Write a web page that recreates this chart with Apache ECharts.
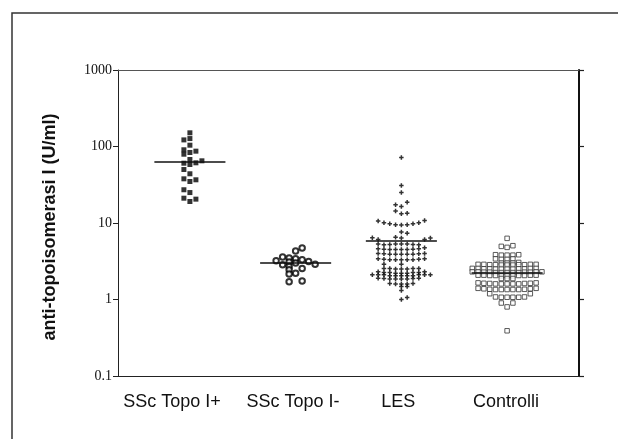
<!DOCTYPE html>
<html>
<head>
<meta charset="utf-8">
<script src="https://cdn.jsdelivr.net/npm/echarts@6/dist/echarts.min.js"></script>
<style>
html,body{margin:0;padding:0;background:#fff;}
#chart{width:618px;height:439px;}
</style>
</head>
<body>
<div id="chart"></div>
<script>
// ---- data ----
var categories = ['SSc Topo I+', 'SSc Topo I-', 'LES', 'Controlli'];
var yTickLabels = ['0.1', '1', '10', '100', '1000'];
var medians = [64, 3.0, 5.8, 2.23];

var sscPosValues = [151,122,127,104,90.6,79.3,83.5,86.9,67.6,65,60.5,61.2,58.2,50,44,37.8,36.7,34.9,27.2,25,21.1,20.5,19.1];
var sscPosSlots  = [0,-1,0,0,-1,-1,0,1,0,2,-1,1,0,-1,0,-1,1,0,-1,0,-1,1,0];

var sscNegValues = [4.7,4.3,3.6,3.5,3.4,3.3,3.2,3.1,3.15,3.0,2.9,2.85,2.7,2.55,2.45,2.2,2.15,1.75,1.7];
var sscNegSlots  = [1,0,-2,-1,0,1,-3,-1,2,0,3,-2,-1,1,-1,0,-1,1,-1];

var lesValues = [72,31,25,18.7,17.3,16.4,14.3,13.2,13.4,
  10.6,10.1,9.8,9.5,9.45,9.5,9.8,10.1,10.8,
  7.6,7.35,6.5,6.35,6.4,6.1,6.1,6.35,
  5.3,5.2,5.25,5.3,5.3,5.3,5.25,5.2,
  4.6,4.55,4.5,4.5,4.5,4.5,4.55,4.6,4.75,
  4.0,3.95,3.9,3.9,3.9,3.9,3.9,3.95,4.0,
  3.4,3.35,3.3,3.3,3.3,3.3,3.3,3.35,3.4,
  2.9,2.9,
  2.55,2.55,2.5,2.5,2.5,2.55,2.55,
  2.3,2.25,2.25,2.2,2.2,2.2,2.25,2.25,2.3,
  2.1,2.1,2.1,2.05,2.05,2.05,2.05,2.05,2.1,2.1,2.1,
  1.9,1.88,1.85,1.85,1.85,1.85,1.88,1.9,
  1.62,1.6,1.6,1.6,1.62,
  1.48,1.48,1.31,1.06,1.0];
var lesSlots = [0,0,0,1,-1,0,-1,0,1,
  -4,-3,-2,-1,0,1,2,3,4,
  0,1,-1,0,-5,-4,4,5,
  -4,-3,-2,-1,0,1,2,3,
  -4,-3,-2,-1,0,1,2,3,4,
  -4,-3,-2,-1,0,1,2,3,4,
  -4,-3,-2,-1,0,1,2,3,4,
  -3,0,
  -3,-2,-1,0,1,2,3,
  -4,-3,-2,-1,0,1,2,3,4,
  -5,-4,-3,-2,-1,0,1,2,3,4,5,
  -4,-3,-2,-1,0,1,2,3,
  -2,-1,0,1,2,
  0,1,0,1,0];

var ctrlValues = [6.3,
  4.95,4.8,5.05,
  3.85,3.8,3.8,3.8,3.85,
  3.4,3.35,3.35,3.4,
  3.0,3.0,3.0,3.05,
  2.88,2.88,2.85,2.85,2.82,2.82,2.82,2.85,2.85,2.88,2.88,
  2.55,2.55,2.52,2.52,2.5,2.5,2.5,2.5,2.52,2.52,2.55,2.55,
  2.3,2.3,2.28,2.28,2.25,2.25,2.25,2.25,2.25,2.28,2.28,2.3,2.3,
  2.08,2.08,2.06,2.06,2.04,2.04,2.04,2.06,2.06,2.08,2.08,
  1.88,1.88,1.88,
  1.65,1.63,1.62,1.6,1.6,1.6,1.6,1.6,1.62,1.63,1.65,
  1.4,1.38,1.36,1.35,1.35,1.35,1.35,1.35,1.36,1.38,1.4,
  1.19,1.19,
  1.08,1.07,1.07,1.07,1.07,1.08,
  0.9,0.9,0.8,0.39];
var ctrlSlots = [0,
  -1,0,1,
  -2,-1,0,1,2,
  -2,-1,0,1,
  -1,0,1,2,
  -5,-4,-3,-2,-1,0,1,2,3,4,5,
  -6,-5,-4,-3,-2,-1,0,1,2,3,4,5,
  -6,-5,-4,-3,-2,-1,0,1,2,3,4,5,6,
  -5,-4,-3,-2,-1,0,1,2,3,4,5,
  -1,0,1,
  -5,-4,-3,-2,-1,0,1,2,3,4,5,
  -5,-4,-3,-2,-1,0,1,2,3,4,5,
  -3,4,
  -2,-1,0,1,2,3,
  -1,1,0,0];

// ---- build ----
var PX = 1 / 105.67;            // x-units per pixel
var slotPx = [6, 6.5, 5.8, 5.8]; // beeswarm column spacing per group
function pts(idx, vals, slots) {
  return vals.map(function (v, i) { return [idx + slots[i] * slotPx[idx] * PX, v]; });
}
var halfW = 0.336;
function medLine(idx) {
  return {
    silent: true, symbol: 'none', label: {show: false},
    lineStyle: {color: '#111', width: 1.5, type: 'solid'},
    data: [[{coord: [idx - halfW, medians[idx]]}, {coord: [idx + halfW, medians[idx]]}]]
  };
}

var chart = echarts.init(document.getElementById('chart'), null, {renderer: 'canvas'});
var option = {
  animation: false,
  backgroundColor: '#fff',
  grid: {left: 118, right: 39, top: 70, bottom: 63, containLabel: false},
  xAxis: [{
    type: 'value', min: -0.68, max: 3.68, position: 'bottom',
    axisLine: {show: true, onZero: false, lineStyle: {color: '#222', width: 1}},
    axisTick: {show: false},
    splitLine: {show: false},
    axisLabel: {
      customValues: [-0.17, 0.975, 1.97, 2.99],
      formatter: function (v, i) {
        var k = Math.round(v); if (k < 0) k = 0; if (k > 3) k = 3;
        return categories[k];
      },
      fontFamily: 'Liberation Sans', fontSize: 18, color: '#111', margin: 17
    }
  }, {
    type: 'value', min: -0.68, max: 3.68, position: 'top',
    axisLine: {show: true, onZero: false, lineStyle: {color: '#555', width: 1}},
    axisTick: {show: false}, axisLabel: {show: false}, splitLine: {show: false}
  }],
  yAxis: [{
    type: 'log', logBase: 10, min: 0.1, max: 1000, position: 'left',
    axisLine: {show: true, onZero: false, lineStyle: {color: '#222', width: 1}},
    axisTick: {show: true, inside: false, length: 5, lineStyle: {color: '#222'}},
    splitLine: {show: false},
    axisLabel: {
      formatter: function (v) {
        var e = Math.round(Math.log10(v)) + 1;
        return yTickLabels[e] !== undefined ? yTickLabels[e] : String(v);
      },
      fontFamily: 'Liberation Serif', fontSize: 14, color: '#111', margin: 6
    }
  }, {
    type: 'log', logBase: 10, min: 0.1, max: 1000, position: 'right',
    axisLine: {show: true, onZero: false, lineStyle: {color: '#111', width: 2}},
    axisTick: {show: true, inside: false, length: 5, lineStyle: {color: '#222', width: 1.2}},
    axisLabel: {show: false}, splitLine: {show: false}
  }],
  graphic: [
    {type: 'polyline', shape: {points: [[12, 439], [12, 13], [618, 13]]},
      style: {stroke: '#333', lineWidth: 1.5, fill: null}, silent: true},
    {type: 'text', x: 50, y: 227, rotation: Math.PI / 2,
      style: {text: 'anti-topoisomerasi I (U/ml)', font: 'bold 18px "Liberation Sans"',
        fill: '#111', align: 'center', verticalAlign: 'middle'}}
  ],
  series: [
    {type: 'scatter', name: categories[0], data: pts(0, sscPosValues, sscPosSlots),
      symbol: 'rect', symbolSize: 5, itemStyle: {color: '#000'}, markLine: medLine(0)},
    {type: 'scatter', name: categories[1], data: pts(1, sscNegValues, sscNegSlots),
      symbol: 'circle', symbolSize: 5.5, itemStyle: {color: '#fff', borderColor: '#000', borderWidth: 2}, markLine: medLine(1)},
    {type: 'scatter', name: categories[2], data: pts(2, lesValues, lesSlots),
      symbol: 'path://M2,0H4V2H6V4H4V6H2V4H0V2H2Z', symbolSize: 4.5, itemStyle: {color: '#000'}, markLine: medLine(2)},
    {type: 'scatter', name: categories[3], data: pts(3, ctrlValues, ctrlSlots),
      symbol: 'rect', symbolSize: 4.5, itemStyle: {color: '#fff', borderColor: '#333', borderWidth: 1}, markLine: medLine(3)}
  ]
};
chart.setOption(option);
</script>
</body>
</html>
